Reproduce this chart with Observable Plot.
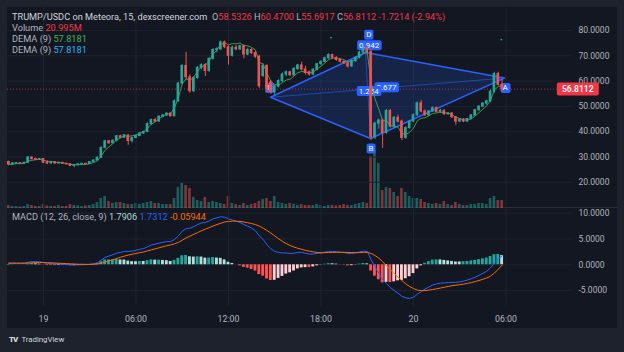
<!DOCTYPE html>
<html><head><meta charset="utf-8">
<script src="https://cdn.jsdelivr.net/npm/d3@7"></script>
<script src="https://cdn.jsdelivr.net/npm/@observablehq/plot@0.6"></script>
<style>
html,body{margin:0;padding:0;background:#1e222d;}
#root{position:relative;width:624px;height:352px;background:#1e222d;overflow:hidden;font-family:Roboto,"Liberation Sans",sans-serif;}
#panel{position:absolute;left:7px;top:7px;width:610px;height:321px;background:#131722;}
.layer{position:absolute;left:7px;}
.leg{position:absolute;left:12px;font-size:9.2px;line-height:11px;color:#b2b5be;white-space:nowrap;}
.w{color:#d1d4dc}.r{color:#f23645}
#sep{position:absolute;left:7px;top:207px;width:610px;height:1px;background:#2a2e39;}
#tv{position:absolute;left:9px;top:335px;font-size:7.8px;color:#d1d4dc;white-space:nowrap;}
#tv b{font-size:8px;letter-spacing:-1px;margin-right:4px;font-weight:900}
</style></head><body>
<div id="root">
  <div id="panel"></div>
  <div id="sep"></div>
  <div id="vol" class="layer" style="top:7px"></div>
  <div id="price" class="layer" style="top:7px"></div>
  <div id="macd" class="layer" style="top:208px"></div>
  <div class="leg" id="l1" style="top:11px"></div>
  <div class="leg" id="l2" style="top:22px"></div>
  <div class="leg" id="l3" style="top:33px"></div>
  <div class="leg" id="l4" style="top:44px"></div>
  <div class="leg" id="l5" style="top:211px"></div>
  <div id="tv"><b>TV</b>TradingView</div>
</div>
<script>
// ---- data: 15-minute candles, index offsets from 19th 00:00 ----
const firstIndex = -9;
const openP = [28.0,27.0,27.4,27.6,27.3,27.7,29.8,29.2,28.9,
29.2,27.8,27.4,28.0,27.4,27.7,27.3,27.1,26.5,26.8,27.1,27.3,27.2,28.0,28.6,29.7,33.6,36.2,35.4,36.4,38.2,37.6,38.5,36.3,
37.5,38.3,39.3,39.9,43.0,44.6,44.0,45.9,46.4,47.1,46.1,52.0,59.0,66.0,61.5,56.0,61.2,65.2,66.3,64.0,68.8,72.3,72.6,75.3,
73.4,70.0,73.2,72.5,73.8,70.5,72.3,71.0,69.6,62.0,66.0,59.5,55.6,57.8,60.0,62.6,63.5,62.3,64.8,66.2,64.6,63.5,62.6,64.5,
66.7,67.6,69.0,70.3,69.2,68.4,67.6,67.0,65.8,67.9,69.2,71.3,72.8,71.5,37.8,43.2,44.4,39.5,48.2,42.0,45.5,44.0,37.5,41.4,
44.0,46.5,51.2,48.0,46.5,48.0,49.3,47.8,48.3,46.9,47.2,45.7,44.0,44.8,44.0,45.0,46.4,48.5,49.9,51.1,52.0,55.8,62.8,58.5326];
const highP = [28.4,27.8,27.8,27.8,27.9,30.2,30.0,29.6,29.4,
29.3,28.5,28.3,28.2,27.9,27.8,27.5,27.2,27.0,27.3,27.5,27.6,28.2,28.9,30.0,34.0,36.6,36.5,36.8,38.5,38.6,38.9,38.8,37.8,
38.6,39.6,40.2,43.5,45.0,45.3,46.3,46.8,47.5,47.5,52.5,59.5,66.5,71.3,62.5,61.8,65.8,66.8,66.9,69.2,72.8,73.2,75.8,75.8,
74.0,73.8,74.0,74.2,74.2,73.0,72.8,71.6,70.2,66.8,66.4,60.2,58.5,60.5,63.2,64.0,63.9,65.3,66.6,67.5,65.9,64.0,64.9,67.0,
68.0,69.5,70.8,70.6,69.6,68.8,68.0,67.4,68.3,69.6,71.8,74.2,73.5,72.5,43.8,45.0,45.0,48.8,48.8,46.0,46.5,44.6,42.0,44.5,
47.0,51.8,52.3,48.6,48.4,49.8,49.8,48.8,48.6,47.6,47.5,46.0,45.2,45.2,45.3,46.8,48.9,50.3,51.5,52.4,56.5,63.5,63.5,60.47];
const lowP = [26.6,26.8,27.1,27.2,27.2,27.6,28.9,28.6,28.7,
27.4,27.0,27.3,27.2,27.2,27.1,26.9,26.2,25.8,26.6,26.9,27.0,27.1,27.8,28.4,29.5,33.2,35.0,35.2,36.0,37.3,37.4,34.6,35.5,
37.2,38.0,38.9,39.6,42.5,43.6,43.8,45.5,46.0,45.8,45.9,51.6,58.5,60.5,55.2,55.5,60.8,64.5,61.8,63.5,68.3,71.2,72.0,72.8,
66.3,69.5,72.0,72.2,68.8,70.0,70.6,69.0,57.0,61.5,55.5,54.8,54.2,57.3,59.5,61.8,61.8,62.0,64.2,64.0,62.4,62.0,62.2,64.0,
66.2,67.3,68.6,68.6,67.8,67.2,66.6,65.2,65.4,67.5,68.8,70.8,70.8,36.5,36.8,41.0,33.4,39.0,41.5,41.2,43.5,36.5,37.0,41.0,
43.6,46.0,47.5,46.0,46.0,47.6,47.4,47.2,46.4,46.5,45.2,42.5,43.6,43.6,43.7,44.7,46.0,48.0,49.5,50.5,51.5,55.2,58.0,55.6917];
const closeP = [27.0,27.5,27.6,27.3,27.7,29.8,29.1,28.9,29.2,
27.7,27.4,28.0,27.4,27.7,27.3,27.1,26.5,26.8,27.1,27.3,27.2,28.0,28.6,29.7,33.6,36.2,35.4,36.4,38.2,37.6,38.6,36.3,37.5,
38.3,39.3,39.9,43.0,44.6,44.0,45.9,46.4,47.1,46.1,52.0,59.0,66.0,61.5,56.0,61.2,65.2,66.3,64.0,68.8,72.3,72.6,75.3,73.4,
70.0,73.2,72.5,73.8,70.5,72.3,71.0,69.6,58.0,66.0,57.0,55.6,57.8,60.0,62.6,63.5,62.3,64.8,66.2,64.6,63.2,62.6,64.5,66.7,
67.6,69.0,70.3,69.2,68.4,67.6,67.0,65.8,67.9,69.2,71.3,72.8,71.5,37.8,43.2,44.4,39.5,48.2,42.0,45.5,44.0,37.5,41.4,44.0,
46.5,51.2,48.0,46.5,48.0,49.3,47.8,48.3,46.9,47.2,45.7,44.0,44.8,44.0,45.0,46.4,48.5,49.9,51.1,52.0,55.8,62.8,58.5,56.8112];
const volumeM = [7.8,5.2,5.2,3.9,5.2,10.4,7.8,5.2,5.2,
10.4,6.5,5.2,5.2,7.8,5.2,5.2,10.4,7.8,6.5,5.2,6.5,7.8,10.4,15.6,26,31.2,18.2,13,15.6,15.6,13,10.4,10.4,
13,10.4,13,15.6,18.2,13,13,10.4,10.4,10.4,26,54.6,65,59.8,52,28.6,20.8,18.2,28.6,15.6,18.2,15.6,13,10.4,
31.2,13,10.4,7.8,13,7.8,10.4,13,18.2,23.4,26,18.2,31.2,15.6,13,10.4,13,10.4,7.8,10.4,7.8,7.8,7.8,10.4,
7.8,5.2,7.8,7.8,6.5,7.8,10.4,7.8,7.8,10.4,13,15.6,13,135.2,148.2,117,46.8,54.6,52,41.6,31.2,52,41.6,31.2,
26,26,23.4,15.6,13,10.4,13,10.4,18.2,10.4,7.8,15.6,10.4,7.8,7.8,10.4,10.4,13,13,10.4,26,31.2,20.8,20.995];
const macdLine = [0.35,0.33,0.32,0.30,0.32,0.50,0.62,0.62,0.58,
0.40,0.28,0.24,0.18,0.16,0.12,0.08,0.00,-0.02,0.00,0.02,0.03,0.10,0.20,0.40,0.90,1.45,1.70,1.95,2.25,2.40,2.60,2.60,2.65,
2.80,3.00,3.15,3.50,3.85,4.00,4.20,4.35,4.50,4.50,4.90,5.60,6.50,7.00,7.10,7.40,7.80,8.10,8.20,8.50,8.90,9.10,9.30,9.25,
8.90,8.70,8.45,8.20,7.80,7.50,7.10,6.60,5.60,4.90,3.90,3.10,2.60,2.40,2.30,2.30,2.20,2.25,2.40,2.40,2.25,2.10,2.10,2.20,
2.30,2.45,2.60,2.60,2.55,2.45,2.35,2.20,2.20,2.30,2.50,2.65,2.60,1.00,-0.40,-1.60,-2.90,-3.60,-4.40,-5.00,-5.50,-6.10,-6.40,-6.50,
-6.30,-5.70,-5.20,-4.70,-4.30,-3.90,-3.70,-3.55,-3.50,-3.45,-3.40,-3.40,-3.30,-3.15,-2.95,-2.70,-2.40,-2.05,-1.65,-1.25,-0.60,0.35,1.15,1.7312];
const signalLine = [0.30,0.31,0.31,0.31,0.31,0.34,0.38,0.42,0.45,
0.44,0.41,0.38,0.34,0.30,0.27,0.23,0.19,0.15,0.12,0.10,0.08,0.08,0.10,0.16,0.30,0.52,0.75,0.98,1.22,1.46,1.68,1.88,2.04,
2.20,2.35,2.50,2.70,2.90,3.10,3.30,3.50,3.70,3.85,4.05,4.35,4.75,5.20,5.55,5.90,6.25,6.60,6.90,7.20,7.50,7.80,8.05,8.30,
8.40,8.45,8.45,8.40,8.30,8.15,8.00,7.80,7.50,7.10,6.65,6.15,5.60,5.05,4.55,4.10,3.75,3.45,3.20,3.00,2.80,2.65,2.50,2.40,
2.35,2.35,2.38,2.40,2.42,2.43,2.42,2.40,2.37,2.35,2.36,2.40,2.42,2.20,1.80,1.30,0.60,-0.20,-0.95,-1.70,-2.40,-3.05,-3.70,-4.20,
-4.60,-4.90,-5.00,-5.00,-4.90,-4.80,-4.65,-4.50,-4.35,-4.20,-4.05,-3.95,-3.85,-3.75,-3.60,-3.45,-3.25,-3.05,-2.80,-2.55,-2.20,-1.60,-0.85,-0.05944];
const timeTickLabels = ["19","06:00","12:00","18:00","20","06:00"];
const timeTickHours = [0,6,12,18,24,30];
const priceTicks = [20,30,40,50,60,70,80];
const macdTicks = [-5,0,5,10];
// harmonic drawing: vertices A,B,C,D (candle index, price)
const patternNames = ["A","B","C","D"];
const patternIdx = [119.6,84.85,58.9,83.55];
const patternPrice = [61.2,37.3,53.6,71.3];
const tagText = ["0.677","1.254","0.942","A","B","C","D"];
const tagIdx = [89.0,84.4,84.5,119.8,85.0,58.7,84.4];
const tagPrice = [57.6,56.1,74.2,57.3,33.4,57.3,78.3];
const markerIdx = [74.6,118.8];
const markerPrice = [77.2,76.4];
const legendDema = ["57.8181","57.8181"];
const legendMacd = ["1.7906","1.7312","-0.05944"];

// ---- build ----
const UP = "#26a69a", DOWN = "#ef5350", GRID = "#1f2330";
const T0 = Date.UTC(2025,0,19), M15 = 15*60000;
const tAt = k => new Date(T0 + k*M15);
const xDomain = [new Date(T0 - 140*60000), new Date(T0 + 2055*60000)];
const timeTicks = timeTickHours.map(h => new Date(T0 + h*3600000));
const candles = closeP.map((c,k) => ({t: tAt(k+firstIndex), o: openP[k], h: highP[k], l: lowP[k], c, v: volumeM[k], m: macdLine[k], s: signalLine[k]}));
candles.forEach((d,k) => {
  d.hist = d.m - d.s;
  const prev = k ? candles[k-1].hist : d.hist;
  d.hc = d.hist >= 0 ? (d.hist > prev ? "#26a69a" : "#b2dfdb") : (d.hist > prev ? "#ffcdd2" : "#ff5252");
});
// DEMA(9) from the closes
{ const a = 2/10; let e1 = closeP[0], e2 = closeP[0];
  candles.forEach(d => { e1 = a*d.c + (1-a)*e1; e2 = a*e1 + (1-a)*e2; d.dema = 2*e1 - e2; }); }
const pattern = patternIdx.map((k,j) => ({t: tAt(k), p: patternPrice[j], n: patternNames[j]}));
const tags = tagText.map((s,j) => ({t: tAt(tagIdx[j]), p: tagPrice[j], s}));
const markers = markerIdx.map((k,j) => ({t: tAt(k), p: markerPrice[j]}));
const last = candles[candles.length-1];
const byName = n => pattern.find(d => d.n === n);

const W = 610, MR = 46;
const base = {width: W, marginLeft: 0, marginRight: MR,
  style: {background: "transparent", color: "#b2b5be", fontFamily: "Roboto, sans-serif", fontSize: "8.5px", overflow: "visible"}};
const x1f = d => new Date(+d.t - M15/2), x2f = d => new Date(+d.t + M15/2);
const tickLabel = d => timeTickLabels[timeTicks.findIndex(t => +t === +d)];

const volPlot = Plot.plot({...base, height: 201, marginTop: 0, marginBottom: 0,
  x: {type: "utc", domain: xDomain, axis: null},
  y: {domain: [0, 522.6], axis: null},
  marks: [
    Plot.rect(candles, {x1: x1f, x2: x2f, y1: 0, y2: "v", fill: d => d.c >= d.o ? UP : DOWN, fillOpacity: 0.5, insetLeft: 0.6, insetRight: 0.6})
  ]});
document.getElementById("vol").append(volPlot);

const pricePlot = Plot.plot({...base, height: 201, marginTop: 0, marginBottom: 0,
  x: {type: "utc", domain: xDomain, axis: null},
  y: {domain: [9.64, 89.09], axis: null},
  marks: [
    Plot.gridY(priceTicks, {stroke: GRID, strokeOpacity: 1}),
    Plot.gridX(timeTicks, {stroke: GRID, strokeOpacity: 1}),
    Plot.ruleY([last.c], {stroke: "#f23645", strokeOpacity: 0.7, strokeDasharray: "1,2"}),
    Plot.line(pattern, {x: "t", y: "p", curve: "linear-closed", fill: "#2962ff", fillOpacity: 0.17, stroke: "#2962ff", strokeWidth: 1.5}),
    Plot.link([0], {x1: () => byName("C").t, y1: () => byName("C").p, x2: () => byName("A").t, y2: () => byName("A").p, stroke: "#2962ff", strokeOpacity: 0.55, strokeWidth: 1}),
    Plot.link([0], {x1: () => byName("B").t, y1: () => byName("B").p, x2: () => byName("D").t, y2: () => byName("D").p, stroke: "#2962ff", strokeOpacity: 0.55, strokeWidth: 1}),
    Plot.text(tags, {x: "t", y: "p", text: "s", fill: "#ffffff", fontSize: 8, ariaDescription: "pattern-tags"}),
    Plot.line(candles, {x: "t", y: "dema", stroke: "#4caf50", strokeWidth: 1, strokeOpacity: 0.85}),
    Plot.ruleX(candles, {x: "t", y1: "l", y2: "h", stroke: d => d.c >= d.o ? UP : DOWN, strokeWidth: 1}),
    Plot.rect(candles, {x1: x1f, x2: x2f, y1: "o", y2: "c", fill: d => d.c >= d.o ? UP : DOWN, insetLeft: 0.6, insetRight: 0.6, insetTop: -0.5, insetBottom: -0.5}),
    Plot.dot(markers, {x: "t", y: "p", r: 0.9, fill: UP, stroke: null}),
    Plot.axisY(priceTicks, {anchor: "right", tickSize: 0, tickPadding: 7, tickFormat: d => d.toFixed(4), label: null, fontSize: 8.5}),
    Plot.text([last.c], {y: d => d, frameAnchor: "right", dx: 22, text: d => d.toFixed(4), fill: "#ffffff", fontSize: 8.5, fontWeight: 600, ariaDescription: "last-price"})
  ]});
document.getElementById("price").append(pricePlot);

const macdPlot = Plot.plot({...base, height: 120, marginTop: 0, marginBottom: 22,
  x: {type: "utc", domain: xDomain},
  y: {domain: [-8.08, 10.91], axis: null},
  marks: [
    Plot.gridY(macdTicks, {stroke: GRID, strokeOpacity: 1}),
    Plot.gridX(timeTicks, {stroke: GRID, strokeOpacity: 1}),
    Plot.rect(candles, {x1: x1f, x2: x2f, y1: 0, y2: "hist", fill: "hc", insetLeft: 0.5, insetRight: 0.5}),
    Plot.line(candles, {x: "t", y: "m", stroke: "#2962ff", strokeWidth: 1}),
    Plot.line(candles, {x: "t", y: "s", stroke: "#ff6d00", strokeWidth: 1}),
    Plot.axisY(macdTicks, {anchor: "right", tickSize: 0, tickPadding: 7, tickFormat: d => d.toFixed(4), label: null, fontSize: 8.5}),
    Plot.axisX(timeTicks, {anchor: "bottom", tickSize: 0, tickPadding: 9, tickFormat: tickLabel, label: null, fontSize: 8.8})
  ]});
document.getElementById("macd").append(macdPlot);

// boxes behind tag texts
function boxify(svg, label, fill, padX, padY, fixedW) {
  const g = svg.querySelector(`g[aria-description="${label}"]`);
  if (!g) return;
  g.querySelectorAll("text").forEach(t => {
    const b = t.getBBox();
    const r = document.createElementNS("http://www.w3.org/2000/svg", "rect");
    const w = fixedW || b.width + 2*padX;
    r.setAttribute("x", b.x + b.width/2 - w/2);
    r.setAttribute("y", b.y - padY);
    r.setAttribute("width", w);
    r.setAttribute("height", b.height + 2*padY);
    r.setAttribute("rx", 2);
    r.setAttribute("fill", fill);
    if (t.getAttribute("transform")) r.setAttribute("transform", t.getAttribute("transform"));
    t.parentNode.insertBefore(r, t);
  });
}
boxify(pricePlot, "pattern-tags", "#2962ff", 2, 0.5);
boxify(pricePlot, "last-price", "#f23645", 3, 1.5, 42);

// legends
const f4 = v => v.toFixed(4);
const chg = last.c - last.o;
document.getElementById("l1").innerHTML =
  `<span class="w">TRUMP/USDC on Meteora, 15, dexscreener.com</span>&nbsp; O<span class="r">${f4(last.o)}</span> H<span class="r">${f4(last.h)}</span> L<span class="r">${f4(last.l)}</span> C<span class="r">${f4(last.c)}</span> <span class="r">${f4(chg)} (${(chg/last.o*100).toFixed(2)}%)</span>`;
document.getElementById("l2").innerHTML = `Volume <span class="r">${last.v.toFixed(3)}M</span>`;
document.getElementById("l3").innerHTML = `DEMA (9) <span style="color:#4caf50">${legendDema[0]}</span>`;
document.getElementById("l4").innerHTML = `DEMA (9) <span style="color:#29b6f6">${legendDema[1]}</span>`;
document.getElementById("l5").innerHTML = `MACD (12, 26, close, 9) <span style="color:#b2dfdb">${legendMacd[0]}</span> <span style="color:#2962ff">${legendMacd[1]}</span> <span style="color:#ff6d00">${legendMacd[2]}</span>`;
</script>
</body></html>
